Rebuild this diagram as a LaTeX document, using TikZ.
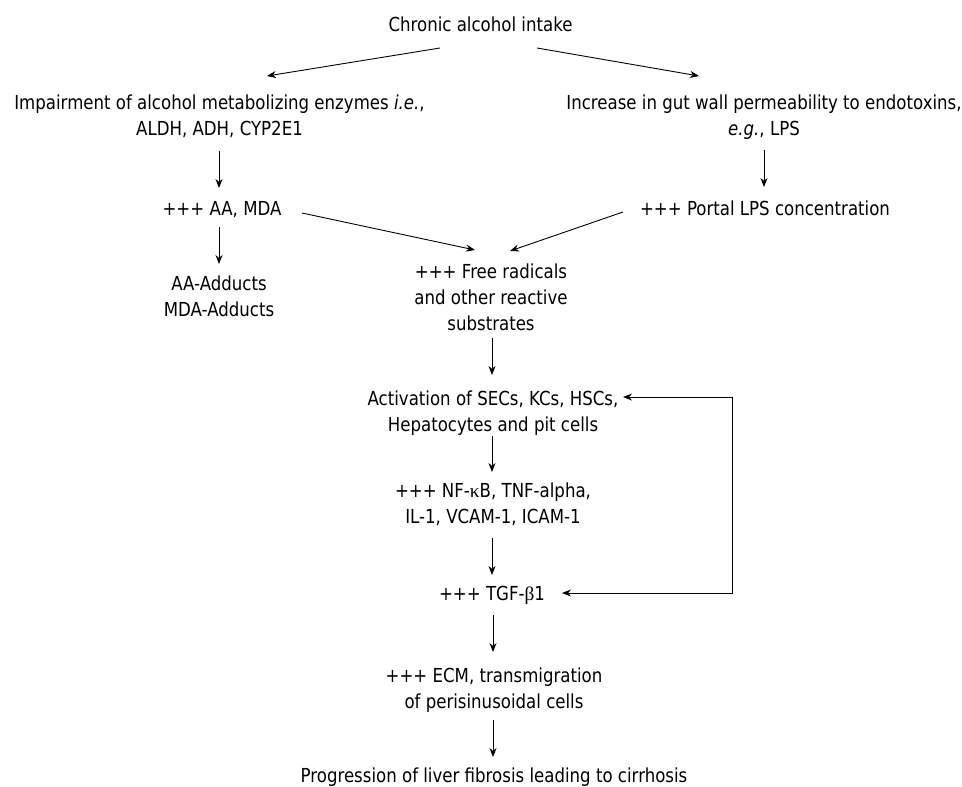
\documentclass[tikz,border=0pt]{standalone}
\usepackage{fontspec}
\setmainfont{DejaVu Sans}[FakeStretch=0.86]
\newfontfamily\grk{Liberation Serif}
\usetikzlibrary{arrows.meta}
\begin{document}
\begin{tikzpicture}[x=1pt,y=-1pt,
  txt/.style={inner sep=0pt, align=center, anchor=north, yshift=18.2pt,
    font=\fontsize{19.3}{26}\selectfont},
  tip/.style={Stealth[length=9pt,width=7pt]},
  arr/.style={-{Stealth[length=9pt,width=7pt]}, line width=0.9pt},
  arrb/.style={{Stealth[length=9pt,width=7pt]}-{Stealth[length=9pt,width=7pt]}, line width=0.9pt}]
\useasboundingbox (0,0) rectangle (962,787);
% nodes placed at (centre x, first baseline)
\node[txt] (chronic) at (480.5,31) {\strut Chronic alcohol intake};
\node[txt] (impair) at (219.5,109) {\strut Impairment of alcohol metabolizing enzymes \textit{i.e.},\\ALDH, ADH, CYP2E1};
\node[txt] (incr) at (764,109) {\strut Increase in gut wall permeability to endotoxins,\\\textit{e.g.}, LPS};
\node[txt] (aa) at (222,215) {\strut +++ AA, MDA};
\node[txt] (portal) at (765,215) {\strut +++ Portal LPS concentration};
\node[txt] (adducts) at (219,290) {\strut AA-Adducts\\MDA-Adducts};
\node[txt] (free) at (491,278) {\strut +++ Free radicals\\and other reactive\\substrates};
\node[txt] (activ) at (493,405) {\strut Activation of SECs, KCs, HSCs,\\Hepatocytes and pit cells};
\node[txt] (nf) at (493,497) {\strut +++ NF-{\grk κ}B, TNF-alpha,\\IL-1, VCAM-1, ICAM-1};
\node[txt] (tgf) at (492,600) {\strut +++ TGF-{\grk β}1};
\node[txt] (ecm) at (494,682) {\strut +++ ECM, transmigration\\of perisinusoidal cells};
\node[txt] (prog) at (494,782) {\strut Progression of liver fibrosis leading to cirrhosis};

\draw[arr] ([shift={(-40.5,35.2)}]chronic.north) -- ([shift={(47.5,-14.8)}]impair.north);
\draw[arr] ([shift={(56.5,35.2)}]chronic.north) -- ([shift={(-65,-14.8)}]incr.north);
\draw[arr] ([shift={(-0.5,60.2)}]impair.north) -- ([shift={(-3,-8.8)}]aa.north);
\draw[arr] ([shift={(0,59.2)}]incr.north) -- ([shift={(-1,-9.8)}]portal.north);
\draw[arr] ([shift={(80,16.2)}]aa.north) -- ([shift={(-16,-9.8)}]free.north);
\draw[arr] ([shift={(-142,15.2)}]portal.north) -- ([shift={(19,-8.8)}]free.north);
\draw[arr] ([shift={(-3,30.2)}]aa.north) -- ([shift={(0,-7.8)}]adducts.north);
\draw[arr] ([shift={(1,78.2)}]free.north) -- ([shift={(-1,-11.8)}]activ.north);
\draw[arr] ([shift={(-1,49.2)}]activ.north) -- ([shift={(-1,-6.8)}]nf.north);
\draw[arr] ([shift={(-1,59.2)}]nf.north) -- ([shift={(0,-6.8)}]tgf.north);
\draw[arr] ([shift={(1,33.2)}]tgf.north) -- ([shift={(-1,-11.8)}]ecm.north);
\draw[arr] ([shift={(-1,56.2)}]ecm.north) -- ([shift={(-1,-6.8)}]prog.north);
\draw[arrb] ([shift={(70,11.2)}]tgf.north) -| ([shift={(239,10.2)}]activ.north) -- ([shift={(130,10.2)}]activ.north);
\end{tikzpicture}
\end{document}
